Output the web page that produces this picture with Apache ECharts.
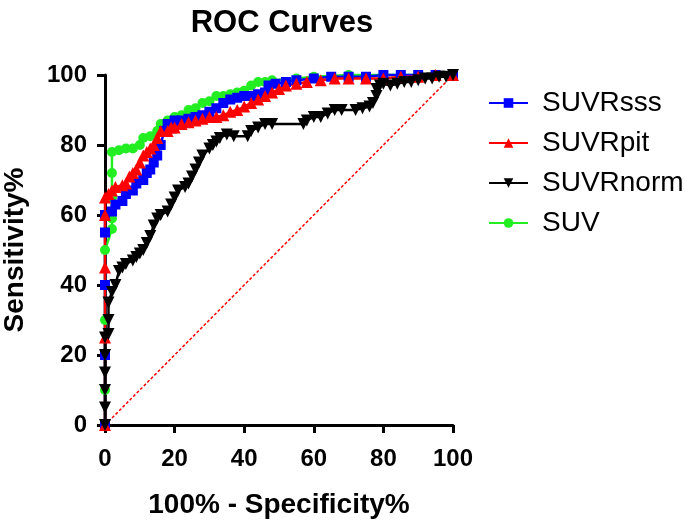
<!DOCTYPE html>
<html>
<head>
<meta charset="utf-8">
<script src="https://cdn.jsdelivr.net/npm/echarts@6/dist/echarts.min.js"></script>
<style>
  html, body { margin: 0; padding: 0; background: #fff; }
  #chart { width: 685px; height: 523px; }
</style>
</head>
<body>
<div id="chart"></div>
<script>
// tick labels shared by both axes
const ticks = [0, 20, 40, 60, 80, 100]
const seriesNames = ['SUVRsss', 'SUVRpit', 'SUVRnorm', 'SUV']

// [100% - specificity, sensitivity] pairs
const suvrSss = [
  [0, 0], [0, 20], [0, 40], [0, 55], [0, 60], [2, 61], [3, 63], [5, 64], [6, 66], [8, 67],
  [9, 69], [11, 70], [12, 72], [13, 73], [14, 75], [15, 77], [16, 80], [17, 84], [18, 86],
  [20, 87], [22, 87], [24, 87.5], [26, 88], [28, 88.5], [30, 89.5], [32, 90.5], [34, 92],
  [36, 93], [38, 93.5], [40, 94], [42, 94], [44, 94.5], [46, 95], [47, 97], [49, 97.5],
  [52, 98], [55, 98.5], [60, 99], [65, 99.5], [70, 99.5], [75, 99.5], [80, 100], [85, 100],
  [90, 100], [95, 100], [100, 100]
]
const suvrPit = [
  [0, 0], [0, 25], [0, 45], [0, 60], [0, 65], [1, 66], [2, 67], [3, 68], [5, 68.5], [6, 69],
  [7, 71], [8, 72], [9, 73], [10, 75], [11, 77], [12, 78], [13, 79], [14, 80], [15, 82],
  [16, 84], [18, 84], [19, 85], [20, 85], [22, 86], [24, 86.5], [26, 87], [28, 87.5],
  [30, 88], [32, 88], [34, 88.5], [36, 89.5], [38, 90], [40, 91], [42, 92], [44, 93],
  [46, 94], [48, 95], [50, 96], [52, 97], [55, 97.5], [58, 98], [62, 98.5], [66, 99],
  [70, 99], [75, 99], [80, 99], [85, 99.5], [90, 99.5], [95, 100], [100, 100]
]
const suvrNorm = [
  [0, 0], [0, 5], [0, 10], [0, 15], [0, 20], [0, 25], [1, 26], [1, 30], [1, 35], [2, 38],
  [3, 40], [4, 44], [5, 45], [6, 46], [8, 47], [9, 48], [10, 49], [11, 50], [12, 52],
  [13, 54], [14, 57], [15, 59], [16, 60], [18, 61], [19, 63], [20, 65], [21, 67], [23, 68],
  [24, 69], [25, 71], [26, 73], [27, 75], [28, 77], [30, 79], [31, 80], [32, 81], [33, 82],
  [35, 83], [37, 82.5], [41, 82.5], [42, 84], [44, 85], [46, 86], [48, 86], [57, 86],
  [58, 87], [60, 88], [62, 88], [64, 89], [66, 90], [68, 90], [72, 90], [74, 90.5],
  [76, 91], [77, 92], [78, 94], [78, 96], [79, 97], [80, 97.5], [82, 97], [84, 97.5],
  [86, 98], [88, 98], [90, 98.5], [92, 99], [94, 99], [96, 99.5], [98, 99.5], [100, 100]
]
const suv = [
  [0, 0], [0, 10], [0, 30], [0, 50], [2, 56], [2, 59], [2, 65], [2, 72], [2, 78], [4, 78.5],
  [6, 79], [8, 79], [10, 80], [11, 82], [13, 82.5], [15, 84], [16, 86], [18, 87], [20, 88],
  [22, 88.5], [24, 90], [26, 90.5], [28, 92], [30, 92.5], [32, 94], [34, 94], [36, 94.5],
  [38, 95], [40, 95.5], [42, 97], [44, 98], [46, 98], [48, 98.5], [55, 99], [60, 99.5],
  [70, 100], [80, 100], [90, 100], [100, 100]
]
const diagonal = [[0, 0], [100, 100]]

const chart = echarts.init(document.getElementById('chart'))

const lineSeries = (name, data, color, symbol, size, extra) => Object.assign({
  name,
  type: 'line',
  data,
  color,
  symbol,
  symbolSize: size,
  clip: false,
  lineStyle: { width: 2.5, color },
  itemStyle: { color },
}, extra)

const axisCommon = {
  type: 'value',
  min: 0,
  max: 100,
  interval: 20,
  nameLocation: 'middle',
  nameTextStyle: { fontFamily: 'Liberation Sans', fontWeight: 'bold', fontSize: 28, color: '#000' },
  axisLine: { show: true, lineStyle: { color: '#000', width: 3 } },
  axisTick: { show: true, length: 8, lineStyle: { color: '#000', width: 3 } },
  axisLabel: {
    fontFamily: 'Liberation Sans', fontWeight: 'bold', fontSize: 24, color: '#000',
    formatter: (v) => (ticks.includes(v) ? String(v) : ''),
  },
  splitLine: { show: false },
}

chart.setOption({
  animation: false,
  backgroundColor: '#fff',
  title: {
    text: 'ROC Curves',
    left: 277,
    textAlign: 'center',
    top: 3,
    textStyle: { fontFamily: 'Liberation Sans', fontWeight: 'bold', fontSize: 31, color: '#000' },
  },
  grid: { left: 105, right: 232, top: 75, bottom: 98, outerBoundsMode: 'none', containLabel: false },
  legend: {
    data: seriesNames,
    orient: 'vertical',
    left: 483,
    top: 84,
    itemWidth: 39,
    itemHeight: 12,
    itemGap: 12,
    textStyle: { fontFamily: 'Liberation Sans', fontSize: 28, color: '#000', padding: [0, 0, 0, 9] },
  },
  xAxis: Object.assign({}, axisCommon, {
    name: '100% - Specificity%',
    nameGap: 66,
    axisLabel: Object.assign({}, axisCommon.axisLabel, { margin: 22 }),
  }),
  yAxis: Object.assign({}, axisCommon, {
    name: 'Sensitivity%',
    nameGap: 76,
    axisLabel: Object.assign({}, axisCommon.axisLabel, { margin: 18 }),
  }),
  series: [
    {
      name: 'diagonal',
      type: 'line',
      data: diagonal,
      symbol: 'none',
      silent: true,
      lineStyle: { color: '#ff0000', width: 1.5, type: [3, 2] },
    },
    lineSeries('SUV', suv, '#22ee22', 'circle', 10),
    lineSeries('SUVRsss', suvrSss, '#0000ff', 'rect', 10),
    lineSeries('SUVRpit', suvrPit, '#ff0000', 'triangle', 12),
    lineSeries('SUVRnorm', suvrNorm, '#000000', 'triangle', 12, { symbolRotate: 180 }),
  ],
})
</script>
</body>
</html>
